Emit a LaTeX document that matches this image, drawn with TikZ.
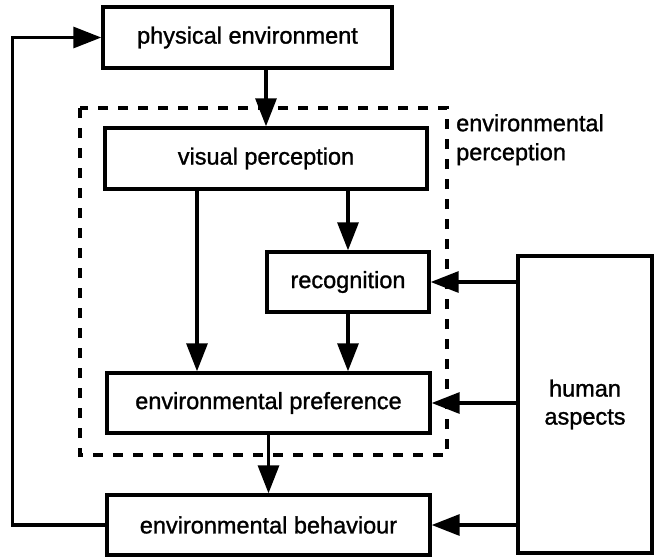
\documentclass[tikz,border=0pt]{standalone}
\usepackage{fontspec}
\setmainfont{Liberation Sans}
\newfontfamily\thickface{Liberation Sans}[FakeBold=1.2]
\usetikzlibrary{arrows.meta}
\begin{document}
\begin{tikzpicture}[x=1pt,y=-1pt,
  box/.style={draw, line width=3.4pt, inner sep=0pt, font=\thickface\fontsize{23.5}{28}\selectfont},
  arr/.style={line width=3.2pt, -{Triangle[length=28pt,width=21pt]}},
  frame/.style={line width=3.2pt, dash pattern=on 10pt off 10pt},
  lbl/.style={font=\thickface\fontsize{23.5}{29}\selectfont, align=left, inner sep=0pt}]
\useasboundingbox (0,0) rectangle (658,558);
% boxes
\node[box, minimum width=289pt, minimum height=61pt] (phys) at (247.5,37.5) {physical environment};
\node[box, minimum width=322pt, minimum height=61pt] (vis) at (266,158.5) {visual perception};
\node[box, minimum width=162pt, minimum height=60pt] (rec) at (348,282) {recognition};
\node[box, minimum width=323pt, minimum height=60pt] (pref) at (268.5,403) {environmental preference};
\node[box, minimum width=323pt, minimum height=60pt] (beh) at (268.5,525) {environmental behaviour};
\node[box, minimum width=134pt, minimum height=297pt, align=center] (hum) at (585,404.5) {human\\aspects};
% dashed frame around the perception stage
\draw[frame] (80,108) rectangle (447,455);
\node[lbl, anchor=north west] (envp) at (456,114) {environmental\\perception};
% connectors
\draw[arr] (phys.south -| vis.north) -- (vis.north);
\draw[arr] (vis.south -| rec.north) -- (rec.north);
\draw[arr] ([xshift=-69pt]vis.south) -- ([xshift=-69pt]vis.south |- pref.north);
\draw[arr] (rec.south) -- (rec.south |- pref.north);
\draw[arr] (pref.south) -- (beh.north);
\draw[arr] (hum.west |- rec.east) -- (rec.east);
\draw[arr] (hum.west |- pref.east) -- (pref.east);
\draw[arr] (hum.west |- beh.east) -- (beh.east);
\draw[arr] (beh.west) -- ++(-93,0) |- (phys.west);
\end{tikzpicture}
\end{document}
